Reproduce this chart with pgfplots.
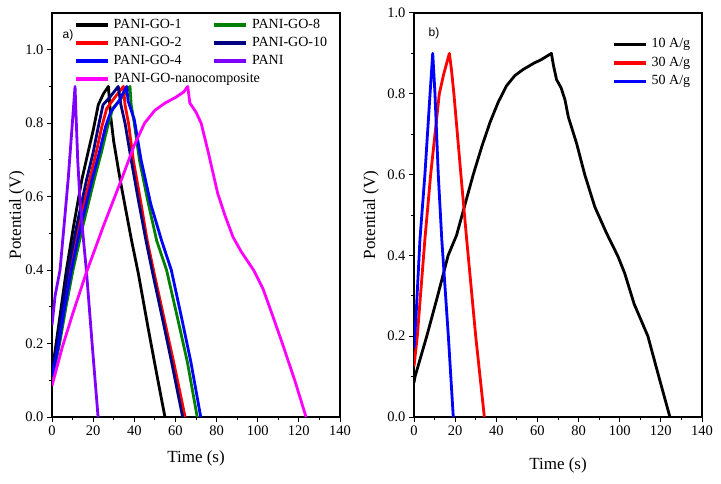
\documentclass[border=0pt]{standalone}
\usepackage{fontspec}
\setmainfont{Liberation Serif}
\newfontfamily\arial{Liberation Sans}
\usepackage{pgfplots}
\pgfplotsset{compat=1.18}

\definecolor{goGreen}{RGB}{0,128,0}
\definecolor{goNavy}{RGB}{0,0,128}
\definecolor{paniViolet}{RGB}{128,0,255}
\definecolor{nanoMagenta}{RGB}{255,0,255}

\pgfplotsset{
  gcd/.style={
    scale only axis, width=288pt, height=404pt,
    xmin=0, xmax=140, ymin=0,
    xtick={0,20,...,140}, ytick={0,0.2,...,1.0},
    minor x tick num=1, minor y tick num=1,
    tick pos=left, tick align=outside,
    major tick length=5pt, minor tick length=3pt,
    axis line style={line width=1.1pt}, every tick/.style={line width=1pt, black},
    /pgf/number format/assume math mode=true,
    tick label style={font=\fontsize{14.5}{16}\selectfont},
    yticklabel style={/pgf/number format/.cd, fixed, fixed zerofill, precision=1},
    label style={font=\fontsize{17}{19}\selectfont},
    xlabel={Time (s)}, ylabel={Potential (V)},
    every axis plot/.append style={line width=2.8pt, line join=round},
    legend cell align=left,
    legend image code/.code={\draw[##1,line width=3.5pt] (0pt,0pt) -- (32pt,0pt);},
    legend style={draw=none, fill=none, inner sep=0pt,
      font=\fontsize{14}{16}\selectfont,
      nodes={inner sep=0pt, text height=10.5pt, text depth=3.5pt},
      /tikz/every odd column/.append style={column sep=4pt}},
  }
}

\begin{document}
\begin{tikzpicture}
\useasboundingbox (0,0) rectangle (721pt,483pt);

% panel a
\begin{axis}[gcd, at={(52pt,66pt)}, anchor=south west, ymax=1.1,
  xlabel style={at={(axis description cs:0.5,-0.1015)}, anchor=center},
  ylabel style={at={(axis description cs:-0.122,0.5)}, anchor=center},
  legend columns=2,
  legend style={at={(axis description cs:0.0764,0.988)}, anchor=north west,
    row sep=4pt,
    /tikz/every even column/.append style={column sep=31pt}}]
\addplot[black] coordinates {
  (0,0.12) (2,0.2) (4.5,0.3) (7,0.4) (10.5,0.52) (14.5,0.646) (17.5,0.72)
  (20,0.78) (22.5,0.85) (25,0.88) (27.4,0.9)
  (28.5,0.82) (30,0.75) (33,0.65) (36,0.56) (38.7,0.48) (42,0.39)
  (46.8,0.24) (50.8,0.12) (54.9,0)
};
\addlegendentry{PANI-GO-1}
\addplot[goGreen] coordinates {
  (0,0.1) (3.7,0.2) (6.8,0.3) (10.2,0.4) (15,0.52) (20.5,0.646) (24,0.72)
  (27,0.79) (29.5,0.84) (34,0.87) (37.9,0.9)
  (38.5,0.85) (40,0.8) (42.5,0.7) (46.5,0.59) (50.9,0.48) (55.7,0.4)
  (61,0.27) (65.8,0.15) (70.6,0)
};
\addlegendentry{PANI-GO-8}
\addplot[red] coordinates {
  (0,0.11) (3,0.2) (5.6,0.3) (8.6,0.4) (13,0.52) (18.3,0.646) (21.5,0.72)
  (24.2,0.79) (26.6,0.84) (30.5,0.87) (34.7,0.9)
  (35.5,0.85) (37.2,0.8) (39.5,0.7) (43,0.59) (46.3,0.48) (49.7,0.39)
  (54.8,0.26) (59.5,0.14) (64.7,0)
};
\addlegendentry{PANI-GO-2}
\addplot[goNavy] coordinates {
  (0,0.12) (2.6,0.2) (5,0.3) (7.8,0.4) (12,0.52) (16.8,0.646) (20,0.72)
  (22.5,0.79) (24.8,0.85) (28,0.87) (32.2,0.9)
  (33.5,0.85) (35.5,0.8) (38.5,0.7) (42,0.59) (45.7,0.48) (49,0.39)
  (54,0.26) (58.5,0.14) (63.5,0)
};
\addlegendentry{PANI-GO-10}
\addplot[blue] coordinates {
  (0,0.11) (3.3,0.2) (6.2,0.3) (9.4,0.4) (14,0.52) (19.5,0.646) (23,0.72)
  (26,0.79) (28.5,0.83) (32.5,0.86) (36.3,0.9)
  (37,0.86) (40,0.81) (43.3,0.7) (48,0.58) (53.3,0.48) (58,0.4)
  (63,0.27) (67.5,0.15) (72.3,0)
};
\addlegendentry{PANI-GO-4}
\addplot[paniViolet] coordinates {
  (0,0.25) (1.5,0.33) (3.9,0.4) (6,0.53) (7.9,0.65) (9.5,0.77) (11.2,0.9)
  (11.7,0.82) (12.5,0.7) (13.5,0.6) (15,0.5) (16.7,0.4) (19.5,0.2) (22.4,0)
};
\addlegendentry{PANI}
\addplot[nanoMagenta] coordinates {
  (0,0.085) (5,0.19) (10,0.28) (16.5,0.39) (25,0.52) (34,0.65) (40,0.74)
  (45,0.8) (50,0.835) (55,0.855) (60,0.87) (64,0.885) (66,0.9)
  (67,0.855) (70,0.83) (72.5,0.8) (76,0.72) (80.5,0.61) (84,0.55) (88,0.49)
  (92,0.45) (98,0.4) (102.5,0.35) (107,0.28) (112,0.2) (118,0.1) (123.5,0)
};
\addlegendentry{\rlap{PANI-GO-nanocomposite}}
\node[font=\arial\fontsize{12}{14}\selectfont] at (axis cs:7.8,1.038) {a)};
\end{axis}

% panel b
\begin{axis}[gcd, at={(414pt,66pt)}, anchor=south west, ymax=1.0,
  xlabel style={at={(axis description cs:0.5,-0.121)}, anchor=center},
  ylabel style={at={(axis description cs:-0.149,0.5)}, anchor=center},
  legend style={at={(axis description cs:0.6875,0.94)}, anchor=north west,
    row sep=4.5pt}]
\addplot[black] coordinates {
  (0,0.085) (0.5,0.1) (6.2,0.2) (11.5,0.3) (16.6,0.4) (20.7,0.45) (25,0.53)
  (28.8,0.6) (33,0.67) (37,0.73) (41,0.78) (45,0.82) (49,0.845) (53,0.86)
  (58,0.875) (62,0.885) (66.8,0.9)
  (67.8,0.87) (69.3,0.835) (71.5,0.815) (73.4,0.785) (75,0.743) (79,0.678)
  (83,0.6) (87.9,0.52) (93.6,0.455) (99.2,0.397) (102.4,0.356) (107,0.28)
  (113.7,0.2) (119,0.1) (124.4,0)
};
\addlegendentry{10 A/g}
\addplot[red] coordinates {
  (0,0.125) (1.6,0.2) (5.3,0.44) (8.1,0.6) (12.3,0.8) (14.5,0.85) (17.2,0.9)
  (18.2,0.86) (19.4,0.8) (22.8,0.6) (25.6,0.44) (30,0.2) (34.2,0)
};
\addlegendentry{30 A/g}
\addplot[blue] coordinates {
  (0,0.17) (1,0.25) (2.9,0.44) (5.3,0.6) (7.8,0.8) (9.1,0.9)
  (10.2,0.8) (11.8,0.6) (13.5,0.44) (16.7,0.2) (19.1,0)
};
\addlegendentry{50 A/g}
\node[font=\arial\fontsize{12}{14}\selectfont] at (axis cs:9.7,0.95) {b)};
\end{axis}
\end{tikzpicture}
\end{document}
